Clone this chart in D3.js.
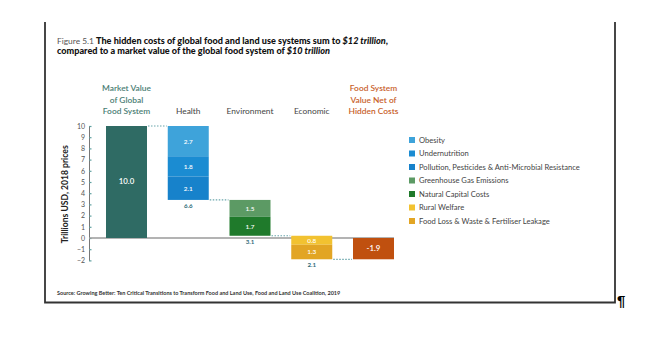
<!DOCTYPE html>
<html><head><meta charset="utf-8">
<script src="https://cdn.jsdelivr.net/npm/d3@7"></script>
<style>
html,body{margin:0;padding:0;background:#fff;}
svg{display:block;font-family:Lato,"Open Sans",sans-serif;}
</style></head>
<body>
<svg id="c" width="672" height="357"></svg>
<script>
// ---- data ----
const categories = ["Market", "Health", "Environment", "Economic", "Net"];
const headerLines = [
  ["Market Value", "of Global", "Food System"],
  ["Health"],
  ["Environment"],
  ["Economic"],
  ["Food System", "Value Net of", "Hidden Costs"]
];
const marketValue = 10.0;
const healthValues = [2.7, 1.8, 2.1];
const environmentValues = [1.5, 1.7];
const economicValues = [0.8, 1.3];
const netValue = -1.9;
const totalLabels = ["6.6", "3.1", "2.1"];
const seriesNames = ["Obesity", "Undernutrition", "Pollution, Pesticides & Anti-Microbial Resistance",
  "Greenhouse Gas Emissions", "Natural Capital Costs", "Rural Welfare", "Food Loss & Waste & Fertiliser Leakage"];
const seriesColors = ["#3ea3da", "#1b8cd2", "#1782cb", "#5c9a64", "#1f7a2b", "#f2c230", "#e2a524"];
const yTicks = [10, 9, 8, 7, 6, 5, 4, 3, 2, 1, 0, -1, -2];

const svg = d3.select("#c");

// frame
const frame = svg.append("g").attr("stroke", "#333").attr("fill", "none");
frame.append("path").attr("d", "M45,22V302.5H615V22").attr("stroke-width", 1.8);
svg.append("text").attr("x", 617).attr("y", 306).attr("font-family", "Liberation Sans, Arial, sans-serif")
  .attr("font-weight", "bold").attr("font-size", 15).attr("fill", "#000").text("¶");

// title
const t1 = svg.append("text").attr("x", 57).attr("y", 44).attr("font-size", 9.1).attr("fill", "#111");
t1.append("tspan").attr("fill", "#555").attr("font-size", 8.4).text("Figure 5.1 ");
t1.append("tspan").attr("font-weight", "900").text("The hidden costs of global food and land use systems sum to ");
t1.append("tspan").attr("font-weight", "900").attr("font-style", "italic").text("$12 trillion");
t1.append("tspan").attr("font-weight", "900").text(",");
const t2 = svg.append("text").attr("x", 57).attr("y", 54).attr("font-size", 9.1).attr("fill", "#111");
t2.append("tspan").attr("font-weight", "900").text("compared to a market value of the global food system of ");
t2.append("tspan").attr("font-weight", "900").attr("font-style", "italic").text("$10 trillion");

// scales
const x = d3.scaleBand().domain(categories).range([106, 394]).paddingInner(0.336).paddingOuter(0);
const y = d3.scaleLinear().domain([-2, 10]).range([260.4, 126]);

// headers
const headerColors = ["#4a7d74", "#444", "#444", "#444", "#c8602a"];
categories.forEach((c, i) => {
  const lines = headerLines[i];
  const tx = svg.append("text").attr("text-anchor", "middle").attr("font-size", 8.4)
    .attr("fill", headerColors[i]).attr("font-weight", (i === 0 || i === 4) ? 600 : 400);
  lines.forEach((l, j) => {
    tx.append("tspan").attr("x", x(c) + x.bandwidth() / 2)
      .attr("y", 114 - (lines.length - 1 - j) * 11.3).text(l);
  });
});

// y axis
const yAxis = svg.append("g").attr("transform", "translate(89,0)")
  .call(d3.axisLeft(y).tickValues(yTicks).tickSize(-2.5).tickSizeOuter(0).tickPadding(4).tickFormat(d3.format("d")));
yAxis.select(".domain").attr("stroke", "#777").attr("stroke-width", 1);
yAxis.selectAll(".tick line").attr("stroke", "#5fa0a0").attr("stroke-width", 1.2);
yAxis.selectAll(".tick text").attr("font-size", 7).attr("fill", "#555").attr("font-family", "Lato, sans-serif");

svg.append("text").attr("transform", `translate(68,${y(3.9)}) rotate(-90)`).attr("text-anchor", "middle")
  .attr("font-size", 8.6).attr("font-weight", "bold").attr("fill", "#222").text("Trillions USD, 2018 prices");

// build waterfall segments
const segs = [];
segs.push({cat: "Market", y0: 0, y1: marketValue, color: "#2f6b64", label: marketValue.toFixed(1), big: true});
let level = marketValue;
const groups = [["Health", healthValues, 0], ["Environment", environmentValues, 3], ["Economic", economicValues, 5]];
const ends = [marketValue];
groups.forEach(([cat, vals, ci]) => {
  vals.forEach((v, k) => {
    segs.push({cat, y0: level - v, y1: level, color: seriesColors[ci + k], label: v.toFixed(1)});
    level -= v;
  });
  ends.push(level);
});
segs.push({cat: "Net", y0: netValue, y1: 0, color: "#c0500f", label: netValue.toFixed(1), big: true});

// zero line
svg.append("line").attr("x1", 89).attr("x2", x("Net") + x.bandwidth())
  .attr("y1", y(0)).attr("y2", y(0)).attr("stroke", "#9a9a9a").attr("stroke-width", 1.6);

// bars
svg.selectAll("rect.seg").data(segs).join("rect").attr("class", "seg")
  .attr("x", d => x(d.cat)).attr("width", x.bandwidth())
  .attr("y", d => y(d.y1)).attr("height", d => y(d.y0) - y(d.y1))
  .attr("fill", d => d.color);
svg.selectAll("text.seg").data(segs).join("text").attr("class", "seg")
  .attr("x", d => x(d.cat) + x.bandwidth() / 2).attr("y", d => (y(d.y0) + y(d.y1)) / 2 + 2.4)
  .attr("text-anchor", "middle").attr("fill", "#fff")
  .attr("font-size", d => d.big ? 7.8 : 6.4).attr("font-weight", 600).text(d => d.label);

// connectors
ends.forEach((lv, i) => {
  svg.append("line").attr("x1", x(categories[i]) + x.bandwidth() + 1).attr("x2", x(categories[i + 1]) - 1)
    .attr("y1", y(lv)).attr("y2", y(lv)).attr("stroke", "#6aa6ac").attr("stroke-width", 1.2)
    .attr("stroke-dasharray", "1.5,1.5");
});

// totals under cost bars
["Health", "Environment", "Economic"].forEach((c, i) => {
  svg.append("text").attr("x", x(c) + x.bandwidth() / 2).attr("y", y(ends[i + 1]) + 8)
    .attr("text-anchor", "middle").attr("font-size", 6.2).attr("font-weight", "bold").attr("fill", "#2d6a78")
    .text(totalLabels[i]);
});

// legend
const lg = svg.append("g").attr("transform", "translate(409,140)");
seriesNames.forEach((n, i) => {
  lg.append("rect").attr("x", 0).attr("y", i * 13.5 - 3).attr("width", 6).attr("height", 6).attr("fill", seriesColors[i]);
  lg.append("text").attr("x", 10).attr("y", i * 13.5 + 2.5).attr("font-size", 7.6).attr("fill", "#444").text(n);
});

// source
svg.append("text").attr("x", 57).attr("y", 294.5).attr("font-size", 5.5).attr("font-weight", "bold").attr("fill", "#333")
  .text("Source: Growing Better: Ten Critical Transitions to Transform Food and Land Use, Food and Land Use Coalition, 2019");
</script>
</body></html>
